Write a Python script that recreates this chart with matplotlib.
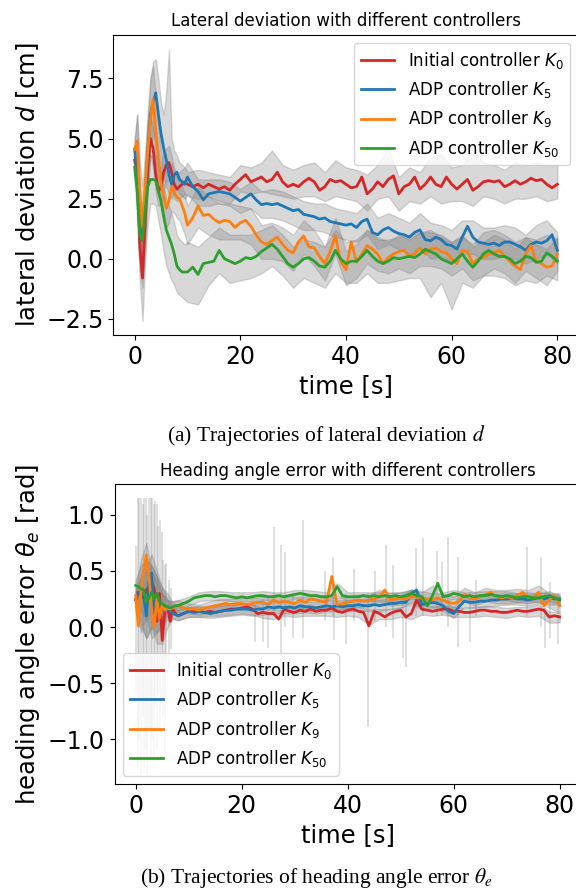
import numpy as np
import matplotlib
matplotlib.use("Agg")
import matplotlib.pyplot as plt

# ---------------- lateral deviation (top) ----------------
t_top = np.concatenate([np.arange(0, 10.5, 0.5), np.arange(11, 81)])
tb_top = np.concatenate([np.arange(0, 10.5, 0.5), np.arange(12, 82, 2)])

d_k0 = [4.1, 3.6, 0.5, -0.8, 1.5, 3.8, 5.0, 4.6, 3.5, 2.8, 3.0, 3.6, 3.9, 4.0, 3.6, 3.1, 2.9, 3.0, 3.1, 3.2, 3.1,
        3.0, 3.1, 2.95, 3.1, 3.0, 2.9, 3.0, 2.85, 3.1, 3.3,
        3.5, 3.2, 3.3, 3.4, 3.2, 3.3, 3.6, 3.2, 3.0, 3.1,
        3.0, 3.2, 3.35, 3.2, 2.85, 3.0, 3.3, 3.2, 3.25, 3.1,
        2.95, 3.0, 3.4, 2.7, 2.9, 3.2, 3.0, 3.3, 3.45, 2.7,
        3.0, 3.1, 3.4, 2.9, 3.1, 3.4, 3.1, 3.0, 3.4, 3.1,
        2.9, 3.1, 3.3, 2.85, 3.0, 3.2, 3.25, 3.2, 3.25, 3.0,
        3.1, 3.25, 3.1, 3.2, 3.35, 3.25, 3.3, 3.1, 2.95, 3.1]
d_k5 = [4.55, 3.5, 1.5, 0.9, 2.5, 4.5, 6.0, 6.5, 6.9, 6.0, 5.2, 4.6, 4.1, 3.5, 3.1, 3.5, 3.6, 3.3, 3.2, 3.1, 3.4,
        3.0, 2.8, 2.45, 2.7, 2.75, 2.8, 2.75, 2.7, 2.55, 2.4,
        2.55, 2.7, 2.45, 2.25, 2.3, 2.25, 2.3, 2.2, 2.1, 2.0,
        2.05, 1.85, 1.8, 1.75, 1.65, 1.7, 1.55, 1.5, 1.45, 1.4,
        1.45, 1.3, 1.55, 1.65, 1.1, 1.0, 1.2, 1.3, 1.15, 1.05,
        1.0, 0.9, 1.1, 1.2, 0.8, 0.75, 0.9, 0.8, 0.6, 0.55,
        0.4, 0.9, 1.35, 0.9, 0.7, 0.65, 0.6, 0.65, 0.55, 0.7,
        0.7, 0.6, 0.5, 0.35, 0.6, 0.7, 0.65, 0.75, 1.0, 0.35]
d_k9 = [4.55, 4.9, 2.5, 1.3, 3.0, 4.5, 5.8, 6.65, 5.3, 4.2, 3.1, 2.6, 2.1, 2.4, 3.0, 2.8, 2.55, 2.5, 2.2, 1.9, 1.4,
        1.7, 2.2, 1.8, 1.85, 1.65, 1.5, 1.6, 1.55, 1.3, 1.5,
        1.6, 1.35, 1.0, 0.7, 0.6, 0.75, 0.9, 0.6, 0.35, 0.25,
        0.7, 0.95, 0.5, 0.45, 0.1, -0.2, 0.3, 0.95, -0.1, -0.45,
        0.7, -0.15, 0.2, 0.55, 0.4, 0.2, -0.2, 0.05, 0.2, 0.3,
        0.35, 0.1, 0.2, 0.45, 0.2, 0.4, 0.45, 0.3, 0.25, 0.0,
        -0.2, 0.35, 0.3, -0.2, 0.0, 0.05, 0.2, 0.25, 0.35, 0.1,
        -0.1, -0.3, -0.45, 0.2, 0.55, -0.1, -0.2, -0.35, -0.3, 0.2]
d_k50 = [3.8, 2.8, 1.0, 0.75, 2.0, 3.0, 3.3, 3.3, 3.25, 2.8, 2.4, 1.8, 1.2, 0.9, 0.6, 0.2, -0.3, -0.45, -0.55, -0.55, -0.55,
         -0.35, -0.65, -0.2, -0.15, -0.1, 0.35, 0.0, -0.1, -0.2, -0.1,
         0.05, 0.0, 0.1, 0.3, 0.45, 0.6, 0.4, 0.1, -0.2, -0.35,
         -0.2, 0.0, 0.05, -0.1, -0.3, -0.35, -0.1, 0.35, 0.0, -0.2,
         -0.1, -0.1, 0.1, 0.35, 0.1, -0.1, -0.2, -0.1, 0.05, 0.0,
         0.05, 0.1, 0.05, 0.2, 0.4, 0.3, 0.2, 0.0, -0.1, -0.2,
         0.0, 0.2, -0.1, -0.35, -0.1, 0.2, 0.35, 0.2, 0.1, 0.1,
         0.0, -0.2, -0.1, 0.1, 0.05, -0.15, -0.1, 0.25, 0.1, -0.1]

# spread across runs (lower / upper envelope)
d_k0_lo = [3.8, 2.0, -0.5, -1.2, 0.5, 3.0, 4.3, 3.8, 2.8, 2.2, 2.3, 2.8, 3.2, 3.3, 2.9, 2.5, 2.4, 2.5, 2.6, 2.7, 2.6,
           2.5, 2.6, 2.4, 2.3, 2.8, 2.7, 2.8, 2.7, 2.6, 2.5, 2.6, 2.6, 2.4, 2.6, 2.5, 2.4, 2.0, 2.5,
           2.6, 2.0, 2.4, 2.3, 2.6, 2.3, 2.4, 2.4, 2.2, 2.6, 2.5, 2.3, 2.5, 2.5, 2.6, 2.4, 2.5]
d_k0_hi = [4.4, 5.0, 2.5, 0.5, 3.0, 5.5, 6.0, 5.5, 4.5, 3.8, 3.8, 4.5, 4.6, 4.7, 4.3, 3.8, 3.5, 3.6, 3.7, 3.8, 3.6,
           3.7, 3.6, 3.5, 3.4, 3.9, 3.8, 4.0, 4.5, 3.9, 3.7, 3.9, 4.0, 3.6, 4.1, 3.8, 3.7, 3.5, 3.9,
           4.6, 3.4, 3.8, 3.6, 4.2, 4.35, 3.8, 3.9, 4.5, 4.0, 3.9, 3.7, 4.0, 3.9, 4.0, 3.9, 3.9]
d_k5_lo = [4.2, 2.0, 0.0, -0.5, 1.2, 3.0, 4.8, 5.0, 5.2, 4.5, 3.8, 3.4, 3.0, 2.7, 2.5, 2.8, 2.9, 2.7, 2.6, 2.5, 2.7,
           2.2, 2.2, 2.3, 2.2, 1.9, 2.1, 1.7, 1.7, 1.6, 1.4, 1.2, 1.2, 1.1, 0.9, 0.8, 0.7, 1.0, 0.4,
           0.6, 0.4, 0.2, 0.5, 0.0, 0.1, -0.1, 0.2, 0.2, 0.0, 0.0, 0.1, 0.0, -0.2, 0.0, 0.2, -0.2]
d_k5_hi = [4.9, 6.0, 3.0, 2.0, 4.0, 6.0, 7.5, 8.2, 8.3, 7.5, 6.5, 6.0, 7.0, 8.7, 5.0, 4.5, 4.3, 4.0, 3.9, 3.8, 4.0,
           3.3, 3.3, 3.3, 3.2, 2.9, 3.2, 2.8, 2.9, 2.8, 2.6, 2.4, 2.3, 2.3, 2.1, 2.0, 1.9, 2.3, 1.7,
           1.9, 1.7, 1.5, 1.9, 1.5, 1.4, 1.2, 1.6, 1.6, 1.3, 1.3, 1.4, 1.3, 1.0, 1.4, 1.6, 1.1]
d_k9_lo = [4.2, 3.0, 1.0, -0.2, 1.5, 3.0, 4.5, 5.5, 4.0, 3.0, 2.0, 1.5, 1.3, 1.5, 2.0, 1.9, 1.7, 1.6, 1.3, 1.0, 0.6,
           1.3, 1.0, 0.8, 0.8, 0.8, 0.6, 0.0, 0.0, -0.1, -0.5, 0.2, -0.3, -0.9, 0.2, -1.1, -0.8, -0.2, -0.5,
           -0.6, -0.4, -0.6, -0.3, -0.3, -0.4, -0.7, -0.4, -0.9, -0.7, -0.4, -0.6, -1.0, -0.5, -0.8, -1.1, -0.5]
d_k9_hi = [5.0, 6.0, 4.0, 3.0, 4.5, 6.0, 7.5, 8.0, 6.8, 5.5, 4.5, 4.0, 3.5, 3.5, 4.0, 3.6, 3.4, 3.3, 3.0, 2.7, 2.2,
           3.0, 2.6, 2.3, 2.3, 2.2, 2.1, 1.4, 1.5, 1.3, 1.0, 1.6, 1.2, 0.5, 1.7, 0.3, 0.6, 1.2, 0.9,
           0.7, 1.0, 0.8, 1.1, 1.1, 1.0, 0.7, 1.0, 0.5, 0.7, 1.0, 0.8, 0.4, 0.9, 0.6, 0.4, 0.9]
d_k50_lo = [3.4, 1.5, -1.0, -2.6, 0.0, 1.5, 2.3, 2.3, 2.2, 1.6, 1.0, 0.3, -0.3, -0.6, -0.9, -1.1, -1.4, -1.5, -1.6, -1.7, -1.8,
            -1.9, -1.1, -0.6, -1.0, -0.9, -0.8, -0.6, -0.3, -0.7, -1.2, -0.8, -1.0, -1.2, -0.6, -1.0, -1.0, -0.6, -1.0,
            -1.0, -0.9, -0.8, -0.8, -1.6, -1.0, -2.1, -1.0, -1.2, -0.7, -0.7, -0.8, -1.1, -0.9, -1.0, -0.7, -0.9]
d_k50_hi = [4.2, 4.0, 2.5, 2.0, 3.5, 4.5, 4.3, 4.3, 4.3, 4.0, 3.6, 3.0, 2.5, 2.2, 1.9, 1.5, 1.0, 0.8, 0.7, 0.6, 0.7,
            0.5, 0.9, 1.3, 1.0, 1.0, 1.0, 1.2, 1.4, 1.0, 0.5, 0.8, 0.7, 0.5, 1.2, 0.7, 0.8, 1.2, 0.8,
            0.8, 0.9, 1.0, 1.1, 1.2, 0.9, 0.7, 0.9, 0.6, 1.1, 1.2, 1.0, 0.7, 0.9, 0.8, 1.0, 0.8]

# ---------------- heading angle error (bottom) ----------------
t_bot = np.concatenate([np.arange(0, 8.5, 0.5), np.arange(9, 81)])
tb_bot = np.concatenate([np.arange(0, 9), np.arange(10, 82, 2)])

h_k0 = [0.24, 0.31, 0.30, 0.26, 0.33, 0.36, 0.40, 0.34, 0.05, 0.30, -0.12, 0.15, 0.18, 0.05, 0.16, 0.12, 0.10,
        0.12, 0.14, 0.15, 0.14, 0.13, 0.14, 0.13, 0.14, 0.15, 0.16,
        0.16, 0.17, 0.18, 0.16, 0.12, 0.13, 0.12, 0.12, 0.07, 0.16,
        0.14, 0.13, 0.15, 0.14, 0.16, 0.14, 0.15, 0.15, 0.17, 0.14,
        0.13, 0.15, 0.16, 0.14, 0.13, 0.01, 0.14, 0.12, 0.09, 0.12,
        0.14, 0.15, 0.09, 0.12, 0.24, 0.16, 0.15, 0.14, 0.15, 0.16,
        0.16, 0.14, 0.14, 0.13, 0.13, 0.14, 0.15, 0.15, 0.14, 0.14,
        0.13, 0.13, 0.14, 0.15, 0.14, 0.14, 0.15, 0.16, 0.15, 0.09,
        0.10, 0.09]
h_k5 = [0.25, 0.30, 0.31, 0.28, 0.10, 0.40, 0.48, 0.08, 0.30, 0.20, 0.15, 0.18, 0.16, 0.14, 0.12, 0.11, 0.10,
        0.12, 0.14, 0.13, 0.14, 0.13, 0.12, 0.13, 0.14, 0.15, 0.15,
        0.16, 0.16, 0.16, 0.15, 0.16, 0.16, 0.18, 0.17, 0.18, 0.17,
        0.18, 0.17, 0.19, 0.18, 0.18, 0.17, 0.18, 0.19, 0.18, 0.19,
        0.18, 0.19, 0.19, 0.20, 0.19, 0.19, 0.20, 0.19, 0.20, 0.21,
        0.21, 0.22, 0.22, 0.30, 0.33, 0.20, 0.21, 0.22, 0.21, 0.19,
        0.14, 0.12, 0.18, 0.23, 0.22, 0.22, 0.23, 0.23, 0.24, 0.24,
        0.25, 0.25, 0.26, 0.25, 0.25, 0.24, 0.25, 0.26, 0.25, 0.26,
        0.25, 0.25]
h_k9 = [0.28, 0.01, 0.32, 0.50, 0.64, 0.46, 0.16, 0.00, 0.25, 0.08, 0.20, 0.15, 0.17, 0.16, 0.17, 0.18, 0.19,
        0.17, 0.16, 0.16, 0.15, 0.17, 0.18, 0.19, 0.20, 0.21, 0.20,
        0.21, 0.21, 0.20, 0.21, 0.22, 0.22, 0.20, 0.24, 0.22, 0.23,
        0.22, 0.21, 0.24, 0.22, 0.25, 0.24, 0.23, 0.22, 0.45, 0.20,
        0.21, 0.22, 0.23, 0.24, 0.23, 0.24, 0.25, 0.27, 0.33, 0.24,
        0.25, 0.26, 0.25, 0.27, 0.27, 0.26, 0.25, 0.24, 0.26, 0.24,
        0.22, 0.21, 0.23, 0.29, 0.26, 0.25, 0.27, 0.29, 0.31, 0.27,
        0.26, 0.27, 0.26, 0.28, 0.31, 0.27, 0.26, 0.31, 0.19, 0.24,
        0.28, 0.19]
h_k50 = [0.37, 0.36, 0.34, 0.33, 0.22, 0.26, 0.31, 0.25, 0.30, 0.22, 0.21, 0.19, 0.18, 0.17, 0.18, 0.19, 0.19,
         0.21, 0.23, 0.26, 0.27, 0.28, 0.28, 0.27, 0.28, 0.28, 0.27,
         0.26, 0.27, 0.26, 0.27, 0.28, 0.28, 0.27, 0.27, 0.28, 0.27,
         0.28, 0.29, 0.30, 0.29, 0.28, 0.28, 0.27, 0.27, 0.28, 0.36,
         0.28, 0.27, 0.27, 0.27, 0.28, 0.27, 0.28, 0.27, 0.28, 0.27,
         0.28, 0.27, 0.28, 0.30, 0.28, 0.27, 0.19, 0.28, 0.39, 0.27,
         0.28, 0.30, 0.29, 0.27, 0.28, 0.27, 0.28, 0.28, 0.29, 0.28,
         0.27, 0.28, 0.27, 0.26, 0.27, 0.27, 0.26, 0.26, 0.27, 0.28,
         0.26, 0.24]

h_k0_lo = [0.18, 0.0, -0.1, 0.0, -0.15, -0.15, 0.0, 0.08, 0.06,
           0.09, 0.09, 0.10, 0.10, 0.11, 0.12, 0.11, 0.08, 0.07, 0.10, 0.09, 0.10, 0.10, 0.10, 0.09, 0.10, 0.09, 0.02,
           0.07, 0.07, 0.09, 0.07, 0.11, 0.10, 0.11, 0.09, 0.09, 0.09, 0.10, 0.09, 0.08, 0.10, 0.09, 0.10, 0.04, 0.04]
h_k0_hi = [0.32, 0.45, 0.5, 0.55, 0.45, 0.35, 0.3, 0.22, 0.17,
           0.18, 0.18, 0.18, 0.19, 0.20, 0.21, 0.20, 0.17, 0.16, 0.19, 0.18, 0.18, 0.18, 0.19, 0.18, 0.19, 0.18, 0.16,
           0.16, 0.16, 0.18, 0.20, 0.19, 0.18, 0.19, 0.18, 0.17, 0.18, 0.19, 0.18, 0.17, 0.18, 0.18, 0.20, 0.14, 0.13]
h_k5_lo = [0.18, 0.05, -0.1, 0.0, -0.05, 0.0, 0.08, 0.07, 0.06,
           0.09, 0.09, 0.08, 0.09, 0.10, 0.11, 0.10, 0.11, 0.12, 0.12, 0.12, 0.13, 0.12, 0.14, 0.14, 0.14, 0.15, 0.14,
           0.14, 0.16, 0.17, 0.22, 0.15, 0.17, 0.14, 0.08, 0.18, 0.17, 0.18, 0.19, 0.20, 0.20, 0.19, 0.21, 0.20, 0.20]
h_k5_hi = [0.32, 0.45, 0.55, 0.65, 0.5, 0.35, 0.25, 0.18, 0.15,
           0.18, 0.19, 0.17, 0.19, 0.20, 0.21, 0.20, 0.21, 0.22, 0.22, 0.22, 0.23, 0.22, 0.24, 0.24, 0.24, 0.25, 0.24,
           0.24, 0.26, 0.27, 0.34, 0.25, 0.27, 0.24, 0.18, 0.28, 0.27, 0.28, 0.29, 0.30, 0.30, 0.29, 0.31, 0.30, 0.30]
h_k9_lo = [0.15, -0.05, 0.1, -0.1, -0.05, 0.05, 0.1, 0.12, 0.13,
           0.12, 0.11, 0.13, 0.15, 0.15, 0.16, 0.16, 0.17, 0.18, 0.17, 0.16, 0.17, 0.18, 0.17, 0.15, 0.17, 0.18, 0.18,
           0.21, 0.19, 0.20, 0.21, 0.20, 0.18, 0.18, 0.15, 0.23, 0.19, 0.23, 0.21, 0.21, 0.22, 0.21, 0.23, 0.17, 0.13]
h_k9_hi = [0.35, 0.6, 0.75, 0.5, 0.4, 0.3, 0.23, 0.23, 0.24,
           0.21, 0.20, 0.23, 0.25, 0.25, 0.26, 0.26, 0.27, 0.29, 0.28, 0.27, 0.27, 0.29, 0.27, 0.26, 0.27, 0.29, 0.29,
           0.33, 0.30, 0.31, 0.33, 0.32, 0.30, 0.30, 0.27, 0.35, 0.31, 0.35, 0.33, 0.33, 0.34, 0.33, 0.37, 0.30, 0.27]
h_k50_lo = [0.32, 0.15, 0.05, 0.15, 0.1, 0.15, 0.13, 0.14, 0.15,
            0.19, 0.23, 0.24, 0.24, 0.23, 0.23, 0.23, 0.24, 0.23, 0.23, 0.25, 0.25, 0.24, 0.23, 0.28, 0.23, 0.23, 0.23,
            0.23, 0.23, 0.23, 0.25, 0.23, 0.23, 0.23, 0.25, 0.23, 0.23, 0.24, 0.24, 0.24, 0.22, 0.23, 0.22, 0.23, 0.20]
h_k50_hi = [0.42, 0.55, 0.6, 0.55, 0.45, 0.3, 0.24, 0.23, 0.24,
            0.27, 0.31, 0.32, 0.32, 0.31, 0.31, 0.31, 0.32, 0.31, 0.31, 0.33, 0.33, 0.32, 0.31, 0.39, 0.31, 0.31, 0.31,
            0.31, 0.31, 0.31, 0.33, 0.31, 0.37, 0.31, 0.33, 0.31, 0.31, 0.32, 0.32, 0.32, 0.30, 0.31, 0.30, 0.32, 0.28]

# single-run outliers in the heading error (time, min, max)
spike_t = [0.1, 0.4, 0.7, 1.0, 1.3, 1.6, 1.9, 2.2, 2.5, 2.8, 3.1, 3.4, 3.7, 4.0, 4.3, 4.6, 4.9, 5.2, 5.5, 5.8,
           6.2, 6.6, 22.6, 24.1, 25.0, 26.1, 27.5, 28.2, 29.7, 31.5, 35.8, 37.2, 37.5, 39.6, 41.1, 43.8, 45.2,
           47.2, 48.6, 50.5, 51.0, 52.8, 54.3, 56.8, 57.7, 58.9, 60.9, 63.1, 64.3, 73.8, 76.4, 77.3, 78.2, 79.6]
spike_lo = [-0.6, -1.25, -1.0, -1.3, -0.8, -1.3, -1.1, -1.3, -0.9, -1.2, -1.0, -1.25, -0.7, -1.1, -0.6, -0.9,
            -0.4, -0.8, -1.12, -0.3, -0.37, -0.2, -0.13, -0.13, -0.19, 0.1, -0.37, 0.0, -0.1, -0.1, 0.05, 0.1,
            -0.12, -0.15, 0.05, -0.89, 0.05, 0.0, -0.1, -0.28, -0.36, 0.1, 0.1, 0.1, 0.1, 0.0, -0.18, -0.13, 0.1,
            0.1, 0.0, -0.19, -0.1, -0.15]
spike_hi = [0.72, 1.15, 1.15, 1.15, 1.1, 1.15, 1.15, 1.0, 1.15, 1.15, 1.15, 1.1, 1.12, 1.1, 0.9, 0.95, 0.85,
            0.6, 0.55, 0.57, 0.42, 0.35, 0.2, 0.25, 0.25, 0.89, 0.73, 0.67, 0.3, 0.95, 0.5, 0.62, 0.4, 0.3, 0.52,
            0.3, 0.5, 0.73, 0.55, 0.3, 0.3, 0.70, 0.79, 0.68, 0.58, 0.80, 0.62, 0.3, 0.42, 0.71, 0.62, 0.3, 0.4, 0.3]

labels = [r"Initial controller $K_0$", r"ADP controller $K_5$",
          r"ADP controller $K_9$", r"ADP controller $K_{50}$"]
colors = ["#d62728", "#1f77b4", "#ff7f0e", "#2ca02c"]

fig = plt.figure(figsize=(5.76, 8.96), dpi=100)

# top panel
ax1 = fig.add_axes([0.1970, 0.6261, 0.8073, 0.3352])
for lo, hi in [(d_k0_lo, d_k0_hi), (d_k5_lo, d_k5_hi), (d_k9_lo, d_k9_hi), (d_k50_lo, d_k50_hi)]:
    ax1.fill_between(tb_top, lo, hi, color="gray", alpha=0.3)
for y, c, lab in zip([d_k0, d_k5, d_k9, d_k50], colors, labels):
    ax1.plot(t_top, y, color=c, lw=2, label=lab)
ax1.set_xlim(-4, 84)
ax1.set_ylim(-3.17, 9.32)
ax1.set_xticks([0, 20, 40, 60, 80])
ax1.set_yticks([-2.5, 0.0, 2.5, 5.0, 7.5])
ax1.tick_params(labelsize=17)
ax1.set_title("Lateral deviation with different controllers", fontsize=12)
ax1.set_xlabel("time [s]", fontsize=17.5)
ax1.set_ylabel(r"lateral deviation $d$ [cm]", fontsize=17.5)
ax1.legend(loc="upper right", fontsize=12)

# bottom panel
ax2 = fig.add_axes([0.1988, 0.125, 0.8097, 0.3345])
ax2.vlines(spike_t, spike_lo, spike_hi, color="gray", alpha=0.3, lw=1.2)
for lo, hi in [(h_k0_lo, h_k0_hi), (h_k5_lo, h_k5_hi), (h_k9_lo, h_k9_hi), (h_k50_lo, h_k50_hi)]:
    ax2.fill_between(tb_bot, lo, hi, color="gray", alpha=0.3)
for y, c, lab in zip([h_k0, h_k5, h_k9, h_k50], colors, labels):
    ax2.plot(t_bot, y, color=c, lw=2, label=lab)
ax2.set_xlim(-4, 84)
ax2.set_ylim(-1.399, 1.272)
ax2.set_xticks([0, 20, 40, 60, 80])
ax2.set_yticks([-1.0, -0.5, 0.0, 0.5, 1.0])
ax2.tick_params(labelsize=17)
ax2.set_title("Heading angle error with different controllers", fontsize=12)
ax2.set_xlabel("time [s]", fontsize=17.5)
ax2.set_ylabel(r"heading angle error $\theta_e$ [rad]", fontsize=17.5)
ax2.legend(loc="lower left", fontsize=12)

# sub-figure captions
fig.text(326 / 576, 1 - 435 / 896, r"(a) Trajectories of lateral deviation $d$",
         family="Liberation Serif", math_fontfamily="stix", fontsize=15.5, ha="center", va="center")
fig.text(316 / 576, 1 - 878 / 896, r"(b) Trajectories of heading angle error $\theta_e$",
         family="Liberation Serif", math_fontfamily="stix", fontsize=15.5, ha="center", va="center")

fig.savefig("out.png", dpi=100)
